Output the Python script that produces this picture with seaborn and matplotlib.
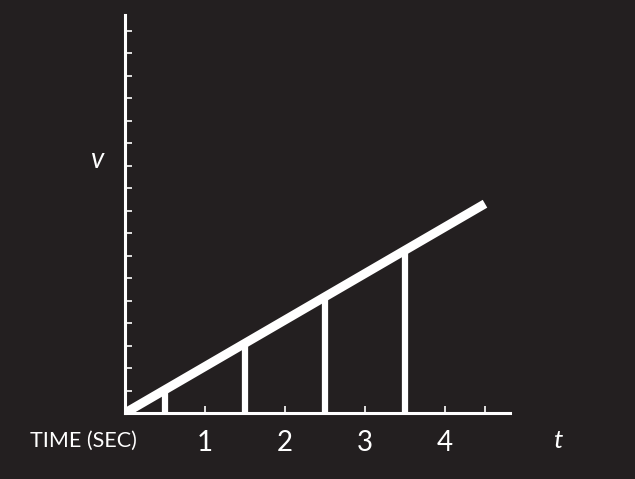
import matplotlib
matplotlib.use("Agg")
import matplotlib.pyplot as plt
import seaborn as sns
import pandas as pd

# data
line_t = [0.0, 4.5]
line_v = [0.0, 9.3]
bar_t = [0.5, 1.5, 2.5, 3.5]
bar_v = [1.03, 3.1, 5.15, 7.2]
x_ticks = [0.5, 1, 1.5, 2, 2.5, 3, 3.5, 4, 4.5]
x_tick_labels = ["", "1", "", "2", "", "3", "", "4", ""]
y_ticks = list(range(1, 18))

BG = "#231f20"
FG = "white"

sns.set_theme(style="white")
plt.rcParams["font.family"] = ["Lato", "DejaVu Sans"]

fig = plt.figure(figsize=(6.35, 4.79), dpi=100, facecolor=BG)
W, H = 635, 479
x0, x1 = 125, 510
y0, y1 = 413, 15
ax = fig.add_axes([x0 / W, (H - y0) / H, (x1 - x0) / W, (y0 - y1) / H])
ax.set_facecolor(BG)

df = pd.DataFrame({"t": line_t, "v": line_v})
sns.lineplot(data=df, x="t", y="v", ax=ax, color=FG, linewidth=6.5,
             solid_capstyle="butt", clip_on=True)
ax.vlines(bar_t, 0, bar_v, color=FG, linewidth=4.5)

ax.set_xlim(0, (x1 - x0) / 80)
ax.set_ylim(0, (y0 - y1) / 22.5)

for s in ["top", "right"]:
    ax.spines[s].set_visible(False)
for s in ["left", "bottom"]:
    ax.spines[s].set_color(FG)
    ax.spines[s].set_linewidth(2.2)

ax.set_xticks(x_ticks)
ax.set_xticklabels(x_tick_labels)
ax.set_yticks(y_ticks)
ax.set_yticklabels([])
ax.tick_params(axis="x", direction="in", length=5, width=1.2, color=FG,
               labelcolor=FG, labelsize=20, pad=12, bottom=True)
ax.tick_params(axis="y", direction="in", length=5, width=1.2, color=FG,
               left=True)
for lab in ax.get_xticklabels():
    lab.set_fontweight("normal")
ax.set_xlabel("")
ax.set_ylabel("")

fig.text(30 / W, 1 - 441 / H, "TIME (SEC)", color=FG, fontsize=15.5,
         ha="left", va="center", fontweight="normal")
fig.text(558 / W, 1 - 440 / H, "t", color=FG, fontsize=19, style="italic",
         ha="center", va="center")
fig.text(97 / W, 1 - 160 / H, "v", color=FG, fontsize=20, style="italic",
         ha="center", va="center")

fig.savefig("out.png", dpi=100, facecolor=BG)
